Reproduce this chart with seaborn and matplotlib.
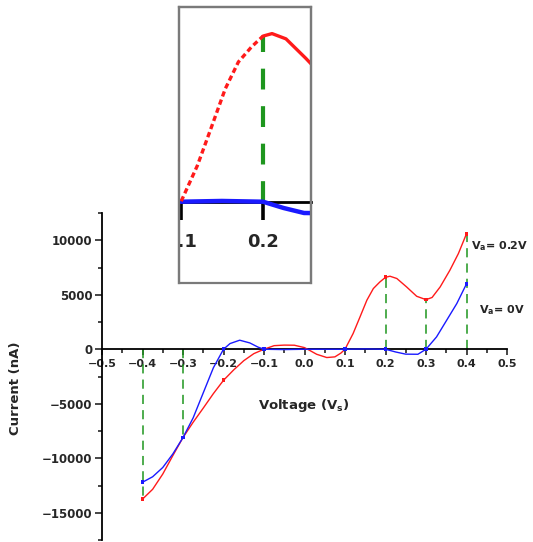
import numpy as np
import pandas as pd
import matplotlib
matplotlib.use("Agg")
import matplotlib.pyplot as plt
from matplotlib.patches import Rectangle
from matplotlib.ticker import MultipleLocator, FixedLocator, FuncFormatter
import seaborn as sns

# I-V sweep with gate bias Va = 0.2 V (voltage in V, current in nA)
v_red = [-0.40, -0.375, -0.35, -0.325, -0.30, -0.275, -0.25, -0.225, -0.20, -0.175,
         -0.15, -0.125, -0.10, -0.075, -0.05, -0.025, 0.00, 0.015, 0.03, 0.055,
         0.075, 0.09, 0.10, 0.12, 0.137, 0.154, 0.17, 0.186, 0.20, 0.211,
         0.228, 0.252, 0.277, 0.30, 0.315, 0.335, 0.359, 0.38, 0.40]
i_red = [-13750, -12850, -11450, -9750, -8100, -6700, -5400, -4070, -2850, -1900,
         -1050, -400, 0, 330, 380, 370, 150, -150, -460, -760,
         -700, -350, 0, 1440, 2960, 4500, 5570, 6170, 6600, 6700,
         6490, 5720, 4860, 4550, 4750, 5720, 7250, 8780, 10600]

# I-V sweep with gate bias Va = 0 V
v_blue = [-0.40, -0.375, -0.35, -0.325, -0.30, -0.275, -0.25, -0.225, -0.20, -0.184,
          -0.16, -0.135, -0.115, -0.10, -0.05, 0.00, 0.05, 0.10, 0.15, 0.20,
          0.225, 0.25, 0.28, 0.30, 0.326, 0.351, 0.376, 0.40]
i_blue = [-12200, -11700, -10850, -9600, -8100, -6300, -4000, -1700, 0, 520,
          830, 580, 200, 0, -30, 0, 0, 0, 30, 0,
          -250, -450, -460, 0, 1130, 2660, 4190, 6000]

series_names = ["Va = 0.2V", "Va = 0V"]
series_colors = ["#ff1a1a", "#1a1aff"]

marker_v = [-0.4, -0.3, -0.2, -0.1, 0.1, 0.2, 0.3, 0.4]
guide_v = [-0.4, -0.3, 0.2, 0.3, 0.4]
inset_guide_v = [0.2]

x_ticks = [-0.5, -0.4, -0.3, -0.2, -0.1, 0.0, 0.1, 0.2, 0.3, 0.4, 0.5]
y_ticks = [-15000, -10000, -5000, 0, 5000, 10000]
inset_ticks = [0.1, 0.2]
inset_tick_labels = ["0.1", "0.2"]

df = pd.concat([
    pd.DataFrame({"voltage": v_red, "current": i_red, "series": series_names[0]}),
    pd.DataFrame({"voltage": v_blue, "current": i_blue, "series": series_names[1]}),
], ignore_index=True)
palette = dict(zip(series_names, series_colors))
red = df[df.series == series_names[0]]
blue = df[df.series == series_names[1]]


def red_at(v):
    return float(red.loc[np.isclose(red.voltage, v), "current"].iloc[0])


sns.set_style("white")
plt.rcParams["font.family"] = ["DejaVu Sans"]
plt.rcParams["font.weight"] = "bold"
plt.rcParams["mathtext.fontset"] = "dejavusans"
plt.rcParams["mathtext.default"] = "bf"

W, H = 533, 542
fig = plt.figure(figsize=(W / 100, H / 100), dpi=100)
ax = fig.add_axes([102 / W, 1 - 540 / H, 405 / W, 327 / H])

green = "#1e961e"

# guide lines from the axis to the Va = 0.2 V curve
ax.vlines(guide_v, 0, [red_at(v) for v in guide_v], colors=green,
          linestyles=(0, (6, 4)), linewidth=1.1, zorder=1)

sns.lineplot(data=df, x="voltage", y="current", hue="series", palette=palette,
             estimator=None, sort=True, linewidth=1.0, legend=False, ax=ax, zorder=3)
marks = df[df.voltage.apply(lambda v: any(np.isclose(v, m) for m in marker_v))]
sns.scatterplot(data=marks, x="voltage", y="current", hue="series", palette=palette,
                marker="s", s=7, linewidth=0, legend=False, ax=ax, zorder=4)

ax.set_xlim(-0.5, 0.5)
ax.set_ylim(-17500, 12500)
for side in ("top", "right"):
    ax.spines[side].set_visible(False)
ax.spines["bottom"].set_position(("data", 0))
for side in ("left", "bottom"):
    ax.spines[side].set_color("black")
    ax.spines[side].set_linewidth(1.3)

ax.xaxis.set_major_locator(FixedLocator(x_ticks))
ax.xaxis.set_minor_locator(MultipleLocator(0.05))
ax.xaxis.set_major_formatter(FuncFormatter(lambda v, p: f"{v:.1f}".replace("-", "\u2212")))
ax.yaxis.set_major_locator(FixedLocator(y_ticks))
ax.yaxis.set_minor_locator(MultipleLocator(2500))
ax.yaxis.set_major_formatter(FuncFormatter(lambda v, p: f"{v:.0f}".replace("-", "\u2212")))
ax.tick_params(axis="x", which="major", direction="out", length=4, width=1.2,
               labelsize=8, pad=3, bottom=True)
ax.tick_params(axis="x", which="minor", direction="out", length=3, width=1.2, bottom=True)
ax.tick_params(axis="y", which="major", direction="out", length=5, width=1.2,
               labelsize=8.5, pad=2, left=True)
ax.tick_params(axis="y", which="minor", direction="out", length=3, width=1.2, left=True)

ax.set_xlabel("Voltage (V$_s$)", fontsize=9.5, fontweight="bold")
ax.set_ylabel("Current (nA)", fontsize=9.5, fontweight="bold")
ax.xaxis.set_label_coords(0.499, 0.437)
ax.yaxis.set_label_coords(-0.198, 0.465)

ax.text(0.41, 9500, "V$_a$= 0.2V", fontsize=8, fontweight="bold", va="center", ha="left")
ax.text(0.43, 3550, "V$_a$= 0V", fontsize=8, fontweight="bold", va="center", ha="left")

# magnified view of the Va = 0.2 V peak
axin = fig.add_axes([179 / W, 1 - 283 / H, 132 / W, 276 / H], zorder=5)
axin.set_facecolor("white")
axin.vlines(inset_guide_v, 0, [red_at(v) for v in inset_guide_v], colors=green,
            linestyles=(0, (5, 4)), linewidth=3, zorder=1)
sns.lineplot(data=blue, x="voltage", y="current", color=series_colors[1],
             estimator=None, linewidth=3.2, ax=axin, zorder=3)
sns.lineplot(data=red[red.voltage <= 0.2 + 1e-9], x="voltage", y="current",
             color=series_colors[0], estimator=None, linewidth=2.4,
             linestyle=(0, (1.6, 1.0)), ax=axin, zorder=4)
sns.lineplot(data=red[red.voltage >= 0.2 - 1e-9], x="voltage", y="current",
             color=series_colors[0], estimator=None, linewidth=2.4, ax=axin, zorder=4)
axin.set_xlim(0.0976, 0.2585)
axin.set_ylim(-3240, 7760)
axin.set_xlabel("")
axin.set_ylabel("")
axin.set_yticks([])
axin.spines["bottom"].set_position(("data", 0))
axin.spines["bottom"].set_color("black")
axin.spines["bottom"].set_linewidth(2)
axin.spines["bottom"].set_zorder(2)
for side in ("top", "left", "right"):
    axin.spines[side].set_color("#7a7a7a")
    axin.spines[side].set_linewidth(1.6)
axin.add_patch(Rectangle((0, 0), 1, 1, transform=axin.transAxes, fill=False,
                         edgecolor="#7a7a7a", linewidth=1.6, clip_on=False, zorder=6))
axin.set_xticks(inset_ticks)
axin.set_xticklabels([])
axin.tick_params(axis="x", which="major", direction="out", length=13, width=2.6,
                 bottom=True, color="black")
for v, lab in zip(inset_ticks, inset_tick_labels):
    axin.text(v, 0.148, lab, transform=axin.get_xaxis_transform(), ha="center",
              va="center", fontsize=13, fontweight="bold", clip_on=True)

fig.savefig("out.png", dpi=100)
